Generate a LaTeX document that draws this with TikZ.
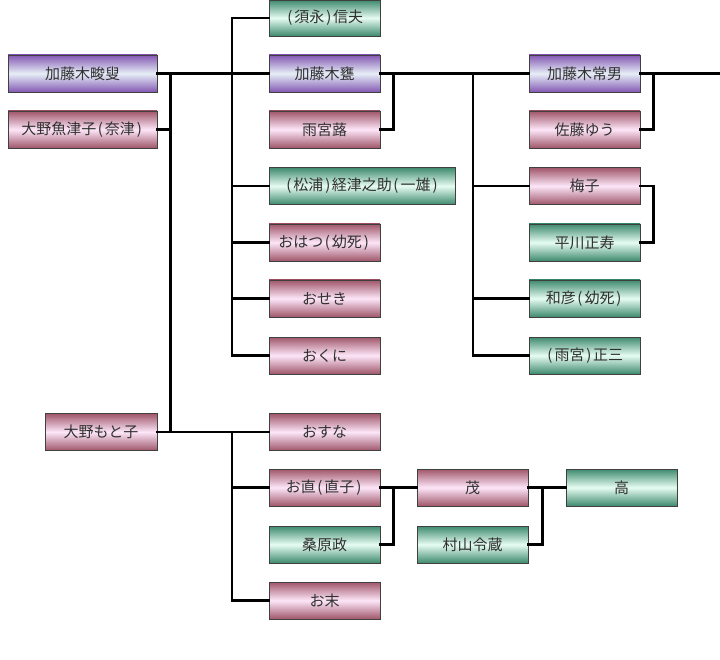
\documentclass[tikz,border=0pt]{standalone}
\usepackage{fontspec}
\setmainfont{Noto Sans CJK JP}
\definecolor{purD}{HTML}{8458B4}
\definecolor{purL}{HTML}{E6EEF6}
\definecolor{pinD}{HTML}{A0566A}
\definecolor{pinL}{HTML}{FCE6F8}
\definecolor{grnD}{HTML}{3E8A6E}
\definecolor{grnL}{HTML}{E6FCF2}
\definecolor{txt}{HTML}{303030}
\newcommand\LP{\kern1.5pt(\kern2pt}
\newcommand\RP{\kern2pt)\kern1.5pt}
\begin{document}
\begin{tikzpicture}[x=1pt,y=-1pt,
  box/.style={draw=black!75, line width=0.6pt, minimum height=37pt, minimum width=111pt,
    inner sep=0pt, text=txt, font=\fontsize{15}{16}\selectfont},
  pur/.style={box, top color=purD, bottom color=purD, middle color=purL},
  pin/.style={box, top color=pinD, bottom color=pinD, middle color=pinL},
  grn/.style={box, top color=grnD, bottom color=grnD, middle color=grnL},
  link/.style={line width=2.6pt, black, line cap=rect}]
\useasboundingbox (0,0) rectangle (720,660);
% left column
\node[pur, minimum width=149pt] (A) at (82.5,73.5) {加藤木畯叟};
\node[pin, minimum width=149pt] (B) at (82.5,129.5) {大野魚津子\LP 奈津\RP};
\node[pin, minimum width=112pt] (C) at (101,432) {大野もと子};
% second column
\node[grn, minimum height=36pt] (D) at (324.5,18) {\LP 須永\RP 信夫};
\node[pur] (E) at (324.5,73.5) {加藤木甕};
\node[pin] (F) at (324.5,129.5) {雨宮蕗};
\node[grn, minimum width=186pt] (G) at (362,186) {\LP 松浦\RP 経津之助\LP 一雄\RP};
\node[pin] (H) at (324.5,242.5) {おはつ\LP 幼死\RP};
\node[pin] (I) at (324.5,298.5) {おせき};
\node[pin] (J) at (324.5,355.5) {おくに};
\node[pin] (K) at (324.5,432) {おすな};
\node[pin] (L) at (324.5,487.5) {お直\LP 直子\RP};
\node[grn] (M) at (324.5,544.5) {桑原政};
\node[pin] (N) at (324.5,600.5) {お末};
% third column
\node[pin] (O) at (472.5,487.5) {茂};
\node[grn] (P) at (472.5,544.5) {村山令蔵};
\node[grn] (Q) at (621.5,487.5) {高};
\node[pur] (R) at (584.5,73.5) {加藤木常男};
\node[pin] (S) at (584.5,129.5) {佐藤ゆう};
\node[pin] (T) at (584.5,186) {梅子};
\node[grn] (U) at (584.5,242.5) {平川正寿};
\node[grn] (V) at (584.5,298.5) {和彦\LP 幼死\RP};
\node[grn] (W) at (584.5,355.5) {\LP 雨宮\RP 正三};
% trunks
\coordinate (t1) at (232,0);
\coordinate (t3) at (473,0);
\coordinate (rend) at (720,73.5);
% connectors
\draw[link] (A.east) -- (E.west);
\draw[link] ([xshift=13pt]A.east) |- (C.east);
\draw[link] (B.east) -- ++(13,0);
\draw[link] (C.east) -- (K.west);
\draw[link] (D.west) -- (D.west -| t1) -- (J.west -| t1) -- (J.west);
\foreach \n in {G,H,I} \draw[link] (\n.west) -- (\n.west -| t1);
\draw[link] (K.west -| t1) -- (N.west -| t1) -- (N.west);
\draw[link] (L.west) -- (L.west -| t1);
\draw[link] (E.east) -- (R.west);
\draw[link] (F.east) -| ([xshift=13pt]E.east);
\draw[link] (E.east -| t3) -- (W.west -| t3) -- (W.west);
\foreach \n in {T,V} \draw[link] (\n.west) -- (\n.west -| t3);
\draw[link] (R.east) -- (rend);
\draw[link] (S.east) -| ([xshift=13pt]R.east);
\draw[link] (T.east) -- ++(13,0) |- (U.east);
\draw[link] (L.east) -- (O.west);
\draw[link] (M.east) -| ([xshift=13pt]L.east);
\draw[link] (O.east) -- (Q.west);
\draw[link] (P.east) -| ([xshift=14pt]O.east);
\end{tikzpicture}
\end{document}
